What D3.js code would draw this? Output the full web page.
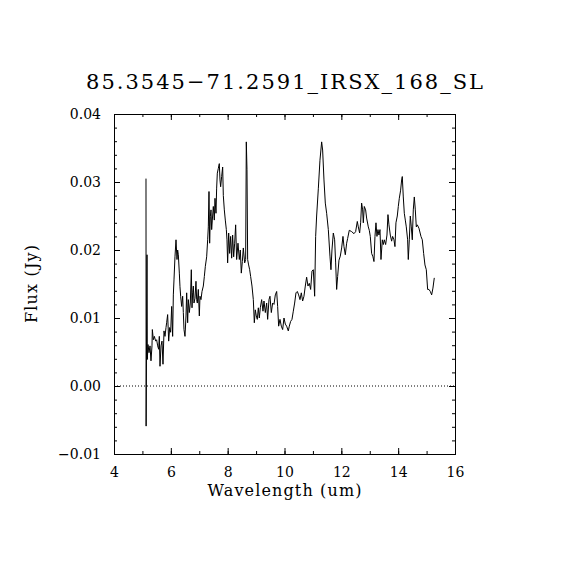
<!DOCTYPE html>
<html>
<head>
<meta charset="utf-8">
<script src="https://cdn.jsdelivr.net/npm/d3@7"></script>
<style>
  body { margin: 0; background: #fff; }
  text { font-family: "DejaVu Serif", "Liberation Serif", serif; fill: #000; }
</style>
</head>
<body>
<div id="chart"></div>
<script>
// spectrum
var wavelength = [
  5.126, 5.13, 5.161, 5.173, 5.196, 5.232, 5.267, 5.302, 5.337, 5.349, 5.384, 5.42, 5.466, 5.5, 5.537,
  5.572, 5.595, 5.619, 5.654, 5.689, 5.724, 5.76, 5.795, 5.83, 5.853, 5.888, 5.924, 5.959, 5.994, 6.029,
  6.064, 6.088, 6.111, 6.146, 6.182, 6.217, 6.24, 6.264, 6.299, 6.322, 6.346, 6.381, 6.416, 6.44, 6.463,
  6.498, 6.534, 6.557, 6.592, 6.616, 6.651, 6.686, 6.721, 6.745, 6.768, 6.792, 6.815, 6.85, 6.885, 6.909,
  6.932, 6.967, 7.003, 7.026, 7.061, 7.097, 7.143, 7.179, 7.214, 7.261, 7.296, 7.319, 7.343, 7.366, 7.39,
  7.413, 7.437, 7.46, 7.495, 7.53, 7.554, 7.589, 7.612, 7.636, 7.671, 7.706, 7.73, 7.753, 7.788, 7.824,
  7.847, 7.882, 7.917, 7.953, 7.976, 7.999, 8.035, 8.07, 8.105, 8.14, 8.175, 8.211, 8.246, 8.281, 8.316,
  8.363, 8.41, 8.445, 8.48, 8.516, 8.551, 8.598, 8.633, 8.656, 8.68, 8.703, 8.738, 8.774, 8.809, 8.856,
  8.903, 8.938, 8.973, 9.008, 9.043, 9.079, 9.114, 9.149, 9.196, 9.243, 9.278, 9.325, 9.372, 9.407, 9.454,
  9.489, 9.536, 9.583, 9.63, 9.677, 9.724, 9.759, 9.794, 9.841, 9.888, 9.935, 9.982, 10.029, 10.075, 10.134,
  10.169, 10.216, 10.263, 10.31, 10.357, 10.404, 10.451, 10.498, 10.545, 10.592, 10.638, 10.685, 10.732, 10.779, 10.826,
  10.873, 10.92, 10.967, 11.014, 11.061, 11.096, 11.131, 11.19, 11.248, 11.307, 11.342, 11.389, 11.436, 11.483, 11.542,
  11.6, 11.635, 11.67, 11.718, 11.764, 11.8, 11.835, 11.87, 11.917, 11.964, 12.011, 12.058, 12.093, 12.14, 12.187,
  12.222, 12.28, 12.363, 12.445, 12.503, 12.562, 12.597, 12.644, 12.679, 12.714, 12.75, 12.773, 12.808, 12.855, 12.89,
  12.949, 12.984, 13.019, 13.066, 13.113, 13.148, 13.184, 13.219, 13.254, 13.289, 13.324, 13.36, 13.395, 13.442, 13.477,
  13.512, 13.559, 13.606, 13.641, 13.676, 13.723, 13.77, 13.805, 13.852, 13.887, 13.922, 13.969, 14.005, 14.04, 14.087,
  14.122, 14.145, 14.18, 14.216, 14.251, 14.286, 14.333, 14.356, 14.392, 14.427, 14.462, 14.497, 14.532, 14.568, 14.603,
  14.638, 14.673, 14.732, 14.802, 14.849, 14.896, 14.943, 14.99, 15.037, 15.084, 15.131, 15.178, 15.224, 15.271
];
var flux = [
  0.0305, -0.0059, 0.0193, 0.0039, 0.0061, 0.0049, 0.0059, 0.0037, 0.0059, 0.0083, 0.0068, 0.0073, 0.0066, 0.0068, 0.0059,
  0.0054, 0.0073, 0.0029, 0.0059, 0.0066, 0.0032, 0.0081, 0.0073, 0.0086, 0.0093, 0.0105, 0.0066, 0.0086, 0.0079, 0.0117,
  0.0073, 0.0134, 0.0156, 0.0190, 0.0215, 0.0186, 0.0200, 0.0193, 0.0166, 0.0146, 0.0132, 0.0117, 0.0132, 0.0108, 0.0083,
  0.0073, 0.0103, 0.0137, 0.0093, 0.0127, 0.0108, 0.0122, 0.0171, 0.0115, 0.0137, 0.0147, 0.0122, 0.0129, 0.0154, 0.0127,
  0.0122, 0.0142, 0.0103, 0.0132, 0.0127, 0.0139, 0.0147, 0.0161, 0.0176, 0.0190, 0.0215, 0.0234, 0.0286, 0.0210, 0.0249,
  0.0259, 0.0230, 0.0244, 0.0264, 0.0244, 0.0276, 0.0254, 0.0291, 0.0313, 0.0320, 0.0327, 0.0303, 0.0293, 0.0308, 0.0322,
  0.0280, 0.0259, 0.0244, 0.0230, 0.0215, 0.0181, 0.0225, 0.0195, 0.0220, 0.0188, 0.0222, 0.0190, 0.0210, 0.0237, 0.0186,
  0.0210, 0.0186, 0.0200, 0.0166, 0.0183, 0.0203, 0.0181, 0.0186, 0.0359, 0.0318, 0.0186, 0.0178, 0.0171, 0.0161, 0.0147,
  0.0127, 0.0093, 0.0112, 0.0103, 0.0098, 0.0115, 0.0100, 0.0115, 0.0127, 0.0110, 0.0125, 0.0108, 0.0122, 0.0098, 0.0127,
  0.0132, 0.0108, 0.0122, 0.0120, 0.0134, 0.0139, 0.0117, 0.0088, 0.0098, 0.0088, 0.0083, 0.0100, 0.0091, 0.0088, 0.0081,
  0.0088, 0.0095, 0.0098, 0.0110, 0.0122, 0.0137, 0.0139, 0.0134, 0.0127, 0.0137, 0.0125, 0.0132, 0.0147, 0.0160, 0.0147,
  0.0151, 0.0142, 0.0169, 0.0171, 0.0132, 0.0220, 0.0250, 0.0290, 0.0332, 0.0359, 0.0347, 0.0303, 0.0269, 0.0254, 0.0230,
  0.0191, 0.0171, 0.0200, 0.0225, 0.0215, 0.0181, 0.0142, 0.0161, 0.0185, 0.0191, 0.0203, 0.0220, 0.0205, 0.0193, 0.0210,
  0.0217, 0.0229, 0.0227, 0.0224, 0.0227, 0.0242, 0.0234, 0.0225, 0.0240, 0.0269, 0.0259, 0.0240, 0.0264, 0.0259, 0.0247,
  0.0234, 0.0229, 0.0220, 0.0195, 0.0190, 0.0183, 0.0220, 0.0240, 0.0220, 0.0230, 0.0222, 0.0230, 0.0186, 0.0215, 0.0208,
  0.0215, 0.0208, 0.0222, 0.0252, 0.0237, 0.0222, 0.0213, 0.0220, 0.0215, 0.0205, 0.0240, 0.0250, 0.0264, 0.0276, 0.0288,
  0.0303, 0.0308, 0.0278, 0.0254, 0.0244, 0.0234, 0.0215, 0.0186, 0.0215, 0.0250, 0.0234, 0.0215, 0.0259, 0.0278, 0.0259,
  0.0234, 0.0237, 0.0232, 0.0220, 0.0215, 0.0195, 0.0178, 0.0171, 0.0142, 0.0142, 0.0139, 0.0134, 0.0144, 0.0159
];
var xTicks = [4, 6, 8, 10, 12, 14, 16];
var yTicks = [-0.01, 0.00, 0.01, 0.02, 0.03, 0.04];
var titleText = "85.3545\u221271.2591_IRSX_168_SL";

var W = 570, H = 570;
var margin = { top: 114, right: 115, bottom: 116, left: 114 };
var width = W - margin.left - margin.right,
    height = H - margin.top - margin.bottom;

var svg = d3.select("#chart").append("svg")
    .attr("width", W)
    .attr("height", H);

var g = svg.append("g")
    .attr("transform", "translate(" + margin.left + "," + margin.top + ")");

var x = d3.scaleLinear().domain([4, 16]).range([0, width]);
var y = d3.scaleLinear().domain([-0.01, 0.04]).range([height, 0]);

// minus sign like the original (U+2212)
function fmtY(d) {
    var s = d3.format(".2f")(Math.abs(d));
    return (d < -1e-9 ? "\u2212" : "") + s;
}

// zero line, dotted
g.append("line")
    .attr("x1", 0).attr("x2", width)
    .attr("y1", y(0)).attr("y2", y(0))
    .attr("stroke", "#000")
    .attr("stroke-width", 1)
    .attr("stroke-dasharray", "1,2");

// spectrum
var pts = wavelength.map(function(w, i) { return { w: w, f: flux[i] }; });
var line = d3.line()
    .x(function(d) { return x(d.w); })
    .y(function(d) { return y(d.f); });

g.append("path")
    .datum(pts)
    .attr("d", line)
    .attr("fill", "none")
    .attr("stroke", "#000")
    .attr("stroke-width", 1);

// axes: inward ticks on all four sides, IDL style
var xMinor = d3.range(4, 17, 1);
var yMinor = d3.range(-0.01, 0.0401, 0.002);

function tickStyle(sel) {
    sel.select(".domain").remove();
    sel.selectAll("line").attr("stroke", "#000").attr("stroke-width", 1);
}

g.append("g").attr("transform", "translate(0," + height + ")")
    .call(d3.axisBottom(x).tickValues(xMinor).tickSize(-3).tickFormat(""))
    .call(tickStyle);
g.append("g").attr("transform", "translate(0," + height + ")")
    .call(d3.axisBottom(x).tickValues(xTicks).tickSize(-6).tickPadding(13).tickFormat(d3.format("d")))
    .call(tickStyle)
    .selectAll("text").attr("font-size", 14).attr("font-family", "DejaVu Serif");
g.append("g")
    .call(d3.axisTop(x).tickValues(xMinor).tickSize(-3).tickFormat(""))
    .call(tickStyle);
g.append("g")
    .call(d3.axisTop(x).tickValues(xTicks).tickSize(-6).tickFormat(""))
    .call(tickStyle);

g.append("g")
    .call(d3.axisLeft(y).tickValues(yMinor).tickSize(-3).tickFormat(""))
    .call(tickStyle);
g.append("g")
    .call(d3.axisLeft(y).tickValues(yTicks).tickSize(-6).tickPadding(13).tickFormat(fmtY))
    .call(tickStyle)
    .selectAll("text").attr("font-size", 14).attr("font-family", "DejaVu Serif");
g.append("g").attr("transform", "translate(" + width + ",0)")
    .call(d3.axisRight(y).tickValues(yMinor).tickSize(-3).tickFormat(""))
    .call(tickStyle);
g.append("g").attr("transform", "translate(" + width + ",0)")
    .call(d3.axisRight(y).tickValues(yTicks).tickSize(-6).tickFormat(""))
    .call(tickStyle);

// frame
g.append("rect")
    .attr("width", width).attr("height", height)
    .attr("fill", "none")
    .attr("stroke", "#000")
    .attr("stroke-width", 1)
    .attr("shape-rendering", "crispEdges");

// title and axis labels
svg.append("text")
    .attr("x", margin.left + width / 2)
    .attr("y", 89)
    .attr("text-anchor", "middle")
    .attr("font-size", 21)
    .attr("textLength", 397)
    .attr("lengthAdjust", "spacing")
    .text(titleText);

svg.append("text")
    .attr("x", margin.left + width / 2)
    .attr("y", 496)
    .attr("text-anchor", "middle")
    .attr("font-size", 16)
    .attr("textLength", 154)
    .attr("lengthAdjust", "spacing")
    .text("Wavelength (um)");

svg.append("text")
    .attr("transform", "translate(37," + (margin.top + height / 2) + ") rotate(-90)")
    .attr("text-anchor", "middle")
    .attr("font-size", 16)
    .attr("textLength", 78)
    .attr("lengthAdjust", "spacing")
    .text("Flux (Jy)");
</script>
</body>
</html>
